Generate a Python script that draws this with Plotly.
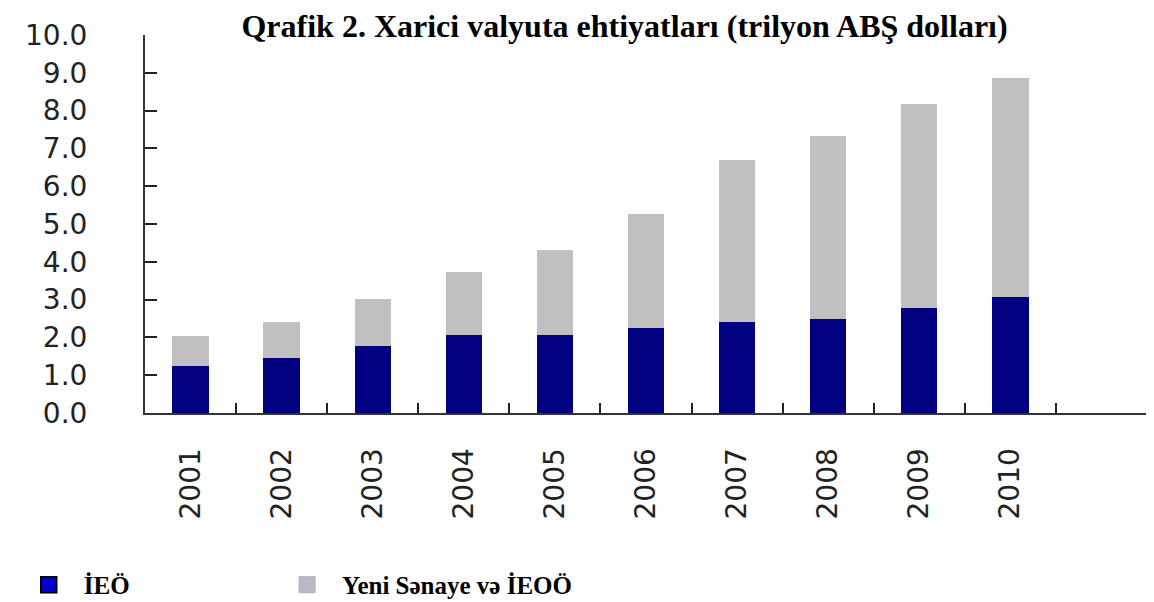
import plotly.graph_objects as go

years = ["2001", "2002", "2003", "2004", "2005", "2006", "2007", "2008", "2009", "2010"]
ieo = [1.24, 1.45, 1.77, 2.06, 2.07, 2.25, 2.41, 2.49, 2.78, 3.07]
yeni = [0.80, 0.96, 1.25, 1.67, 2.24, 3.01, 4.28, 4.84, 5.39, 5.79]
categories = years + [" "]
y_ticks = [0, 1, 2, 3, 4, 5, 6, 7, 8, 9, 10]
y_labels = ["0.0", "1.0", "2.0", "3.0", "4.0", "5.0", "6.0", "7.0", "8.0", "9.0", "10.0"]

fig = go.Figure()
fig.add_trace(go.Bar(x=years, y=ieo, name="İEÖ", showlegend=False,
                     marker=dict(color="#000080", line=dict(width=0))))
fig.add_trace(go.Bar(x=years, y=yeni, name="Yeni Sənaye və İEOÖ", showlegend=False,
                     marker=dict(color="#C0C0C0", line=dict(width=0))))
# legend entries
fig.add_trace(go.Scatter(x=[None], y=[None], mode="markers",
                         name="<b>İEÖ</b>" + "&nbsp;" * 22,
                         marker=dict(symbol="square", size=20, color="#0000CC",
                                     line=dict(color="black", width=1.5))))
fig.add_trace(go.Scatter(x=[None], y=[None], mode="markers", name="<b>Yeni Sənaye və İEOÖ</b>",
                         marker=dict(symbol="square", size=20, color="#B8B8C8",
                                     line=dict(color="#B0B0C0", width=1))))

fig.update_layout(
    width=1146, height=594,
    barmode="stack", bargap=0.6,
    plot_bgcolor="white", paper_bgcolor="white",
    margin=dict(l=137, r=7, t=27, b=189, autoexpand=False),
    title=dict(text="<b>Qrafik 2. Xarici valyuta ehtiyatları (trilyon ABŞ dolları)</b>",
               x=0.538, xanchor="center", y=0.97, yanchor="middle",
               font=dict(family="Liberation Serif", size=32, color="black")),
    legend=dict(orientation="h", x=-0.131, xanchor="left", y=-0.455, yanchor="middle",
                font=dict(family="Liberation Serif", size=25, color="black"),
                itemsizing="trace", itemwidth=60, traceorder="normal"),
    xaxis=dict(type="category", categoryorder="array", categoryarray=categories,
               range=[-0.5, 10.5],
               showline=True, linecolor="#333", linewidth=2,
               ticks="inside", ticklen=10, tickwidth=2, tickcolor="#222",
               tickson="boundaries", tickangle=-90,
               tickfont=dict(family="DejaVu Sans", size=28, color="#222"),
               ticklabelstandoff=22, showgrid=False),
    yaxis=dict(range=[0, 10], tickvals=y_ticks, ticktext=y_labels,
               showline=True, linecolor="#333", linewidth=2,
               ticks="inside", ticklen=12, tickwidth=2, tickcolor="#222",
               tickfont=dict(family="DejaVu Sans", size=28, color="#222"),
               ticklabelstandoff=50, showgrid=False, zeroline=False),
)

fig.write_html("out.html")
